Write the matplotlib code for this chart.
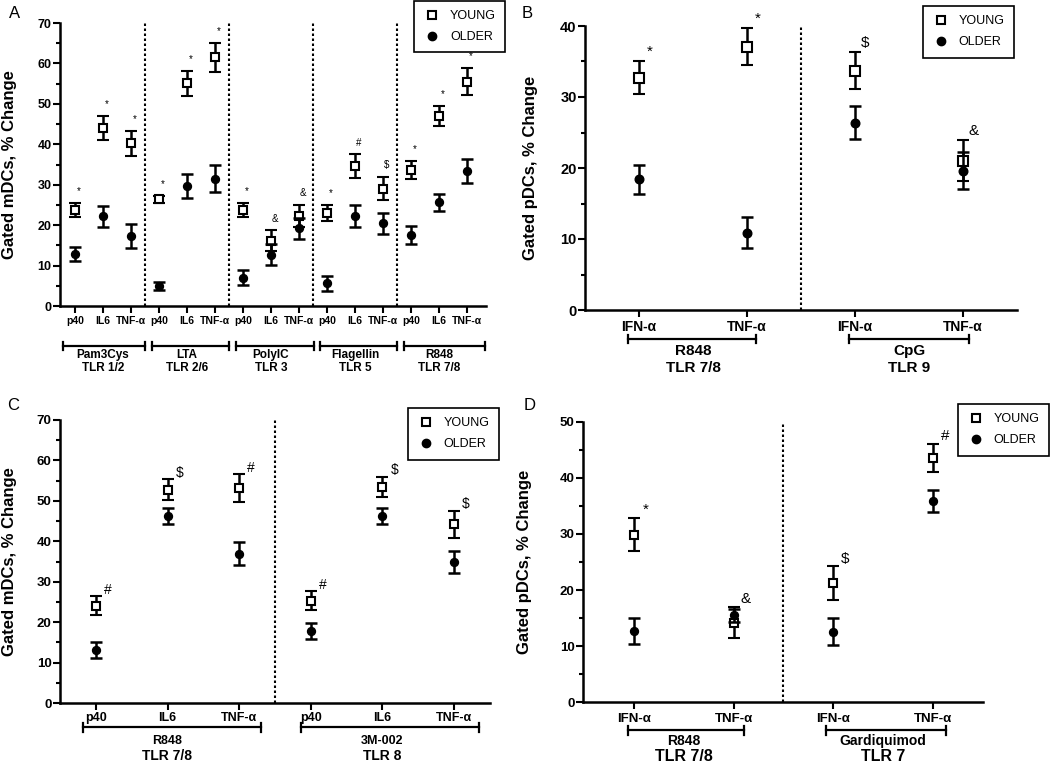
import matplotlib.pyplot as plt
import numpy as np
from matplotlib.lines import Line2D
from matplotlib.ticker import MultipleLocator

plt.rcParams['font.family'] = ['Liberation Sans', 'DejaVu Sans']

# panel A: mDCs, five TLR ligands
a_categories = ['p40', 'IL6', 'TNF-α'] * 5
a_young = [23.8, 44.1, 40.2, 26.4, 55.1, 61.5, 23.7, 16.1, 22.3, 23.0, 34.6, 29.0, 33.6, 47.0, 55.5]
a_young_err = [1.8, 3.0, 3.2, 0.8, 3.1, 3.5, 1.8, 2.6, 2.7, 1.9, 2.9, 2.9, 2.3, 2.4, 3.3]
a_older = [12.9, 22.2, 17.3, 5.0, 29.6, 31.5, 7.0, 12.7, 19.2, 5.6, 22.3, 20.5, 17.5, 25.7, 33.4]
a_older_err = [1.7, 2.6, 2.9, 1.0, 3.0, 3.3, 1.9, 2.6, 2.6, 1.8, 2.7, 2.6, 2.2, 2.1, 3.0]
a_marks = ['*', '*', '*', '*', '*', '*', '*', '&', '&', '*', '#', '$', '*', '*', '*']
a_ligands = ['Pam3Cys', 'LTA', 'PolyIC', 'Flagellin', 'R848']
a_receptors = ['TLR 1/2', 'TLR 2/6', 'TLR 3', 'TLR 5', 'TLR 7/8']

# panel B: pDCs
b_categories = ['IFN-α', 'TNF-α', 'IFN-α', 'TNF-α']
b_young = [32.7, 37.1, 33.7, 21.0]
b_young_err = [2.3, 2.6, 2.6, 2.9]
b_older = [18.4, 10.9, 26.4, 19.6]
b_older_err = [2.0, 2.2, 2.3, 2.6]
b_marks = ['*', '*', '$', '&']
b_ligands = ['R848', 'CpG']
b_receptors = ['TLR 7/8', 'TLR 9']

# panel C: mDCs
c_categories = ['p40', 'IL6', 'TNF-α'] * 2
c_young = [24.1, 52.8, 53.2, 25.3, 53.5, 44.2]
c_young_err = [2.3, 2.5, 3.5, 2.3, 2.5, 3.4]
c_older = [13.1, 46.3, 36.9, 17.9, 46.3, 34.9]
c_older_err = [2.0, 2.0, 2.8, 2.0, 2.0, 2.8]
c_marks = ['#', '$', '#', '#', '$', '$']
c_ligands = ['R848', '3M-002']
c_receptors = ['TLR 7/8', 'TLR 8']

# panel D: pDCs
d_categories = ['IFN-α', 'TNF-α', 'IFN-α', 'TNF-α']
d_young = [29.9, 14.2, 21.2, 43.6]
d_young_err = [3.0, 2.8, 3.0, 2.5]
d_older = [12.7, 15.5, 12.6, 35.9]
d_older_err = [2.4, 1.2, 2.4, 2.0]
d_marks = ['*', '&', '$', '#']
d_ligands = ['R848', 'Gardiquimod']
d_receptors = ['TLR 7/8', 'TLR 7']

W, H = 1050, 764
fig = plt.figure(figsize=(W / 100, H / 100), dpi=100)


def px_axes(left, top, right, bottom):
    return fig.add_axes([left / W, 1 - bottom / H, (right - left) / W, (bottom - top) / H])


def draw_panel(ax, categories, young, young_err, older, older_err, marks,
               ligands, receptors, centers, spans, dividers, xlim, ymax,
               ms, tick_fs, xtick_fs, xpad, mark_fs, mark_off,
               bracket_y, lig_y, rec_y, lig_fs, rec_fs, legend_anchor):
    x = np.arange(len(categories))
    ax.errorbar(x, young, yerr=young_err, fmt='s', ms=ms, mfc='white', mec='black',
                mew=1.5, ecolor='black', elinewidth=1.8, capsize=4, capthick=1.8, zorder=3)
    ax.errorbar(x, older, yerr=older_err, fmt='o', ms=ms - 0.3, mfc='black', mec='black',
                ecolor='black', elinewidth=1.8, capsize=4, capthick=1.8, zorder=4)

    for i, m in enumerate(marks):
        top = max(young[i] + young_err[i], older[i] + older_err[i])
        ax.annotate(m, (x[i], top), xytext=mark_off, textcoords='offset points',
                    ha='center', va='center', fontsize=mark_fs, annotation_clip=False)

    for d in dividers:
        ax.axvline(d, color='black', ls=(0, (1.2, 1.2)), lw=1.5)

    ax.set_xlim(*xlim)
    ax.set_ylim(0, ymax)
    ax.set_xticks(x)
    ax.set_xticklabels(categories, fontsize=xtick_fs, fontweight='bold')
    ax.yaxis.set_major_locator(MultipleLocator(10))
    ax.yaxis.set_minor_locator(MultipleLocator(5))
    for lab in ax.get_yticklabels():
        lab.set_fontweight('bold')
    ax.tick_params(axis='y', which='major', labelsize=tick_fs, length=5, width=1.5, pad=1)
    ax.tick_params(axis='y', which='minor', length=3, width=1.5)
    ax.tick_params(axis='x', length=5, width=1.5, pad=xpad)
    for s in ['top', 'right']:
        ax.spines[s].set_visible(False)
    for s in ['left', 'bottom']:
        ax.spines[s].set_linewidth(1.8)

    # bracket under each stimulus group, with its two-line label
    tr = ax.get_xaxis_transform()
    for (x0, x1), c, lig, rec in zip(spans, centers, ligands, receptors):
        ax.plot([x0, x1], [bracket_y, bracket_y], color='black', lw=1.6, transform=tr, clip_on=False)
        for xe in (x0, x1):
            ax.plot([xe, xe], [bracket_y - 0.015, bracket_y + 0.015], color='black', lw=1.6,
                    transform=tr, clip_on=False)
        ax.text(c, lig_y, lig, transform=tr, ha='center', va='baseline', fontsize=lig_fs, fontweight='bold')
        ax.text(c, rec_y, rec, transform=tr, ha='center', va='baseline', fontsize=rec_fs, fontweight='bold')

    handles = [Line2D([], [], ls='none', marker='s', ms=6, mfc='white', mec='black', mew=1.5),
               Line2D([], [], ls='none', marker='o', ms=6, mfc='black', mec='black')]
    leg = ax.legend(handles, ['YOUNG', 'OLDER'], loc='upper right', bbox_to_anchor=legend_anchor,
                    borderaxespad=0, fontsize=9, frameon=True, fancybox=False, framealpha=1,
                    edgecolor='black', borderpad=0.75, labelspacing=0.7, handlelength=1.3,
                    handletextpad=0.8)
    leg.get_frame().set_linewidth(1.2)


ax_a = px_axes(60, 23, 486, 306)
draw_panel(ax_a, a_categories, a_young, a_young_err, a_older, a_older_err, a_marks,
           a_ligands, a_receptors, [1, 4, 7, 10, 13],
           [(-0.45, 2.5), (2.75, 5.5), (5.75, 8.55), (8.75, 11.5), (11.75, 14.65)],
           [2.5, 5.5, 8.5, 11.5], (-0.54, 14.68), 70,
           ms=6, tick_fs=9, xtick_fs=7.5, xpad=2, mark_fs=7, mark_off=(2.5, 8.5),
           bracket_y=-0.141, lig_y=-0.182, rec_y=-0.228, lig_fs=8.5, rec_fs=8.5,
           legend_anchor=(1.045, 1.078))

ax_b = px_axes(585, 26, 1017, 310)
draw_panel(ax_b, b_categories, b_young, b_young_err, b_older, b_older_err, b_marks,
           b_ligands, b_receptors, [0.5, 2.5], [(-0.1, 1.08), (1.94, 3.06)],
           [1.5], (-0.5, 3.5), 40,
           ms=6.5, tick_fs=10.5, xtick_fs=10, xpad=2, mark_fs=11, mark_off=(7.5, 7),
           bracket_y=-0.102, lig_y=-0.16, rec_y=-0.218, lig_fs=11, rec_fs=11,
           legend_anchor=(0.993, 1.07))

ax_c = px_axes(60, 420, 490, 703)
draw_panel(ax_c, c_categories, c_young, c_young_err, c_older, c_older_err, c_marks,
           c_ligands, c_receptors, [1, 4], [(-0.18, 2.3), (2.86, 5.34)],
           [2.5], (-0.5, 5.5), 70,
           ms=6, tick_fs=9.5, xtick_fs=9, xpad=1.5, mark_fs=10, mark_off=(8.5, 4.5),
           bracket_y=-0.086, lig_y=-0.146, rec_y=-0.2, lig_fs=9, rec_fs=10,
           legend_anchor=(1.021, 1.042))

ax_d = px_axes(583, 421.7, 983, 702.3)
draw_panel(ax_d, d_categories, d_young, d_young_err, d_older, d_older_err, d_marks,
           d_ligands, d_receptors, [0.5, 2.5], [(-0.06, 1.1), (1.93, 3.13)],
           [1.5], (-0.51, 3.5), 50,
           ms=6, tick_fs=9.5, xtick_fs=9.5, xpad=2.5, mark_fs=11, mark_off=(8.5, 5.5),
           bracket_y=-0.1, lig_y=-0.152, rec_y=-0.208, lig_fs=10, rec_fs=11.5,
           legend_anchor=(1.165, 1.063))

for letter, xp, yp in [('A', 9, 14), ('B', 522, 14), ('C', 7, 405), ('D', 524, 405)]:
    fig.text(xp / W, 1 - yp / H, letter, ha='left', va='center', fontsize=12)

for label, xp, yp in [('Gated mDCs, % Change', 10, 164.5), ('Gated pDCs, % Change', 530, 168),
                      ('Gated mDCs, % Change', 10, 561.5), ('Gated pDCs, % Change', 525, 562)]:
    fig.text(xp / W, 1 - yp / H, label, rotation=90, ha='center', va='center',
             fontsize=12, fontweight='bold')

fig.savefig('out.png', dpi=100)
